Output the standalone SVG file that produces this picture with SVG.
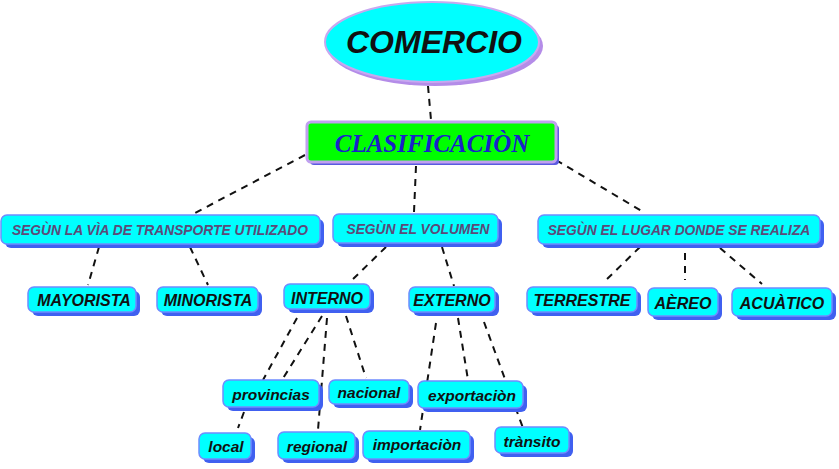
<svg xmlns="http://www.w3.org/2000/svg" width="839" height="469" viewBox="0 0 839 469">
<style>
.bg{fill:#ffffff}
.sh{fill:#4060f0}
.nd{fill:#00ffff;stroke:#6f8cff;stroke-width:1.5}
.t{font-family:"Liberation Sans",Arial,sans-serif;font-weight:bold;font-style:italic;fill:#111;text-anchor:middle}
.t1{font-family:"Liberation Sans",Arial,sans-serif;font-weight:bold;font-style:italic;fill:#5c4a78;text-anchor:middle;font-size:13.8px}
.c line{stroke:#111;stroke-width:2;stroke-dasharray:7,6;fill:none}
</style>
<rect class="bg" x="0" y="0" width="839" height="469"/>
<g id="connectors" class="c">
<line x1="428" y1="86" x2="431" y2="120"/>
<line x1="305" y1="155" x2="195" y2="213"/>
<line x1="416" y1="166" x2="414" y2="212"/>
<line x1="556" y1="160" x2="645" y2="213"/>
<line x1="99" y1="247" x2="88" y2="285"/>
<line x1="190" y1="247" x2="208" y2="285"/>
<line x1="386" y1="247" x2="349" y2="283"/>
<line x1="442" y1="247" x2="454" y2="286"/>
<line x1="640" y1="247" x2="603" y2="283"/>
<line x1="685" y1="253" x2="685" y2="280"/>
<line x1="720" y1="248" x2="762" y2="284"/>
<line x1="297" y1="318" x2="263" y2="380"/>
<line x1="322" y1="316" x2="282" y2="380"/>
<line x1="327" y1="318" x2="318" y2="430"/>
<line x1="346" y1="316" x2="366" y2="378"/>
<line x1="244" y1="412" x2="238" y2="428"/>
<line x1="436" y1="323" x2="420" y2="430"/>
<line x1="458" y1="318" x2="468" y2="380"/>
<line x1="484" y1="322" x2="523" y2="428"/>
</g>
<g id="comercio">
<ellipse cx="435" cy="46" rx="108" ry="40" fill="#b48ce8"/>
<ellipse cx="432" cy="42" rx="107" ry="40" fill="#00ffff" stroke="#c8a8f0" stroke-width="2"/>
<text x="434" y="53" class="t" font-size="32">COMERCIO</text>
</g>
<g id="clasificacion">
<rect x="310" y="125" width="249" height="40" rx="4" fill="#5a5ae0"/>
<rect x="307" y="122" width="249" height="40" rx="4" fill="#00ff00" stroke="#c0a0f0" stroke-width="3"/>
<text x="432" y="152" font-family="'Liberation Serif','Times New Roman',serif" font-weight="bold" font-style="italic" font-size="25" fill="#1a22c8" text-anchor="middle">CLASIFICACIÒN</text>
</g>
<g id="via">
<rect class="sh" x="5" y="219" width="319" height="29" rx="6"/>
<rect class="nd" x="1" y="215" width="319" height="29" rx="6"/>
<text x="160" y="235" class="t1">SEGÙN LA VÌA DE TRANSPORTE UTILIZADO</text>
</g>
<g id="volumen">
<rect class="sh" x="337" y="218" width="165" height="29" rx="6"/>
<rect class="nd" x="333" y="214" width="165" height="29" rx="6"/>
<text x="418" y="234" class="t1">SEGÙN EL VOLUMEN</text>
</g>
<g id="lugar">
<rect class="sh" x="542" y="219" width="282" height="29" rx="6"/>
<rect class="nd" x="538" y="215" width="282" height="29" rx="6"/>
<text x="679" y="235" class="t1">SEGÙN EL LUGAR DONDE SE REALIZA</text>
</g>
<g id="mayorista">
<rect class="sh" x="32" y="291" width="108" height="25" rx="6"/>
<rect class="nd" x="28" y="287" width="108" height="25" rx="6"/>
<text x="84" y="306" class="t" font-size="16">MAYORISTA</text>
</g>
<g id="minorista">
<rect class="sh" x="161" y="291" width="101" height="25" rx="6"/>
<rect class="nd" x="157" y="287" width="101" height="25" rx="6"/>
<text x="208" y="306" class="t" font-size="16">MINORISTA</text>
</g>
<g id="interno">
<rect class="sh" x="288" y="288" width="86" height="25" rx="6"/>
<rect class="nd" x="284" y="284" width="86" height="25" rx="6"/>
<text x="327" y="304" class="t" font-size="16">INTERNO</text>
</g>
<g id="externo">
<rect class="sh" x="413" y="291" width="86" height="25" rx="6"/>
<rect class="nd" x="409" y="287" width="86" height="25" rx="6"/>
<text x="452" y="306" class="t" font-size="16">EXTERNO</text>
</g>
<g id="terrestre">
<rect class="sh" x="531" y="291" width="110" height="25" rx="6"/>
<rect class="nd" x="527" y="287" width="110" height="25" rx="6"/>
<text x="582" y="306" class="t" font-size="16">TERRESTRE</text>
</g>
<g id="aereo">
<rect class="sh" x="652" y="292" width="70" height="28" rx="6"/>
<rect class="nd" x="648" y="288" width="70" height="28" rx="6"/>
<text x="683" y="309" class="t" font-size="16">AÈREO</text>
</g>
<g id="acuatico">
<rect class="sh" x="736" y="292" width="100" height="28" rx="6"/>
<rect class="nd" x="732" y="288" width="100" height="28" rx="6"/>
<text x="782" y="309" class="t" font-size="16">ACUÀTICO</text>
</g>
<g id="provincias">
<rect class="sh" x="227" y="384" width="96" height="27" rx="6"/>
<rect class="nd" x="223" y="380" width="96" height="27" rx="6"/>
<text x="271" y="400" class="t" font-size="15.5">provincias</text>
</g>
<g id="nacional">
<rect class="sh" x="333" y="384" width="80" height="24" rx="6"/>
<rect class="nd" x="329" y="380" width="80" height="24" rx="6"/>
<text x="369" y="398" class="t" font-size="15.5">nacional</text>
</g>
<g id="exportacion">
<rect class="sh" x="422" y="385" width="105" height="27" rx="6"/>
<rect class="nd" x="418" y="381" width="105" height="27" rx="6"/>
<text x="472" y="401" class="t" font-size="15.5">exportaciòn</text>
</g>
<g id="local">
<rect class="sh" x="203" y="437" width="52" height="26" rx="6"/>
<rect class="nd" x="199" y="433" width="52" height="26" rx="6"/>
<text x="226" y="452" class="t" font-size="15.5">local</text>
</g>
<g id="regional">
<rect class="sh" x="282" y="436" width="77" height="27" rx="6"/>
<rect class="nd" x="278" y="432" width="77" height="27" rx="6"/>
<text x="317" y="452" class="t" font-size="15.5">regional</text>
</g>
<g id="importacion">
<rect class="sh" x="367" y="435" width="107" height="28" rx="6"/>
<rect class="nd" x="363" y="431" width="107" height="28" rx="6"/>
<text x="417" y="450" class="t" font-size="15.5">importaciòn</text>
</g>
<g id="transito">
<rect class="sh" x="499" y="431" width="74" height="26" rx="6"/>
<rect class="nd" x="495" y="427" width="74" height="26" rx="6"/>
<text x="532" y="447" class="t" font-size="15.5">trànsito</text>
</g>
</svg>
